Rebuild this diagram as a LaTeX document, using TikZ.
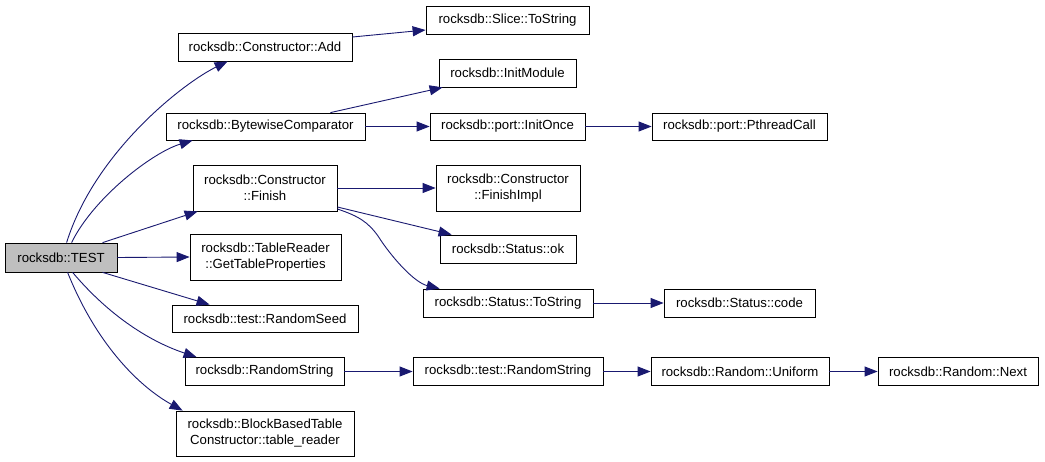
\documentclass[tikz,border=0pt]{standalone}
\usepackage{fontspec}
\setmainfont{Liberation Sans}
\usetikzlibrary{arrows.meta}
\definecolor{edgeblue}{HTML}{191970}
\definecolor{testgray}{HTML}{BFBFBF}
\begin{document}
\begin{tikzpicture}[x=1pt,y=-1pt,
  box/.style={draw=black, line width=0.8pt, fill=white, inner sep=0pt, align=center,
    font=\fontsize{13.2}{16}\selectfont, text=black},
  conn/.style={draw=edgeblue, line width=0.9pt, -{Triangle[length=13pt,width=10pt]}}]
\useasboundingbox (0,0) rectangle (1045,461);
% column 0
\node[box, fill=testgray, minimum width=112pt, minimum height=29pt] (test) at (61,257.5) {rocksdb::TEST};
% column 1
\node[box, minimum width=174pt, minimum height=28pt] (add) at (265,47) {rocksdb::Constructor::Add};
\node[box, minimum width=199pt, minimum height=27pt] (byte) at (265.5,126.5) {rocksdb::BytewiseComparator};
\node[box, minimum width=144pt, minimum height=46pt] (finish) at (265,188) {rocksdb::Constructor\\::Finish};
\node[box, minimum width=151pt, minimum height=46pt] (gtp) at (265.5,257) {rocksdb::TableReader\\::GetTableProperties};
\node[box, minimum width=186pt, minimum height=27pt] (seed) at (265,318.5) {rocksdb::test::RandomSeed};
\node[box, minimum width=159pt, minimum height=28pt] (rstr) at (264.5,371.5) {rocksdb::RandomString};
\node[box, minimum width=178pt, minimum height=45pt] (bbt) at (265,433.5) {rocksdb::BlockBasedTable\\Constructor::table\_reader};
% column 2
\node[box, minimum width=163pt, minimum height=28pt] (slice) at (507.5,20) {rocksdb::Slice::ToString};
\node[box, minimum width=137pt, minimum height=28pt] (initmod) at (507.5,73) {rocksdb::InitModule};
\node[box, minimum width=155pt, minimum height=27pt] (initonce) at (507.5,126.5) {rocksdb::port::InitOnce};
\node[box, minimum width=144pt, minimum height=46pt] (fimpl) at (508,188) {rocksdb::Constructor\\::FinishImpl};
\node[box, minimum width=136pt, minimum height=28pt] (ok) at (508,249) {rocksdb::Status::ok};
\node[box, minimum width=170pt, minimum height=28pt] (stostr) at (508,303) {rocksdb::Status::ToString};
\node[box, minimum width=190pt, minimum height=28pt] (trs) at (508,371.5) {rocksdb::test::RandomString};
% column 3
\node[box, minimum width=175pt, minimum height=27pt] (pthread) at (739.5,126.5) {rocksdb::port::PthreadCall};
\node[box, minimum width=151pt, minimum height=28pt] (code) at (739.5,303) {rocksdb::Status::code};
\node[box, minimum width=178pt, minimum height=28pt] (uni) at (740,371.5) {rocksdb::Random::Uniform};
% column 4
\node[box, minimum width=160pt, minimum height=28pt] (next) at (958,371.5) {rocksdb::Random::Next};
% edges from TEST
\draw[conn] ([xshift=62pt]test.north west) .. controls +(28,-90) and +(-45,22) .. ([xshift=50pt]add.south west);
\draw[conn] ([xshift=67pt]test.north west) .. controls +(22,-45) and +(-40,12) .. ([xshift=27pt]byte.south west);
\draw[conn] ([xshift=98pt]test.north west) -- ([xshift=5pt]finish.south west);
\draw[conn] (test.east) -- (gtp.west);
\draw[conn] ([xshift=98pt]test.south west) -- ([xshift=38pt]seed.north west);
\draw[conn] ([xshift=68pt]test.south west) .. controls +(38,45) and +(-45,-15) .. ([xshift=12pt]rstr.north west);
\draw[conn] ([xshift=63pt]test.south west) .. controls +(28,70) and +(-45,-25) .. ([xshift=7pt]bbt.north west);
% other edges
\draw[conn] ([yshift=10pt]add.east) -- ([yshift=-10pt]slice.west);
\draw[conn] ([xshift=-35pt]byte.north east) -- ([xshift=4pt]initmod.south west);
\draw[conn] (byte.east) -- (initonce.west);
\draw[conn] (initonce.east) -- (pthread.west);
\draw[conn] (finish.east) -- (fimpl.west);
\draw[conn] ([yshift=-19pt]finish.east) -- ([xshift=12pt]ok.north west);
\draw[conn] ([yshift=-21pt]finish.east) .. controls +(21,7) and +(-10,-14) .. (378,236)
   .. controls +(14,22) and +(-25,-6) .. ([xshift=17pt]stostr.north west);
\draw[conn] (stostr.east) -- (code.west);
\draw[conn] (rstr.east) -- (trs.west);
\draw[conn] (trs.east) -- (uni.west);
\draw[conn] (uni.east) -- (next.west);
\end{tikzpicture}
\end{document}
